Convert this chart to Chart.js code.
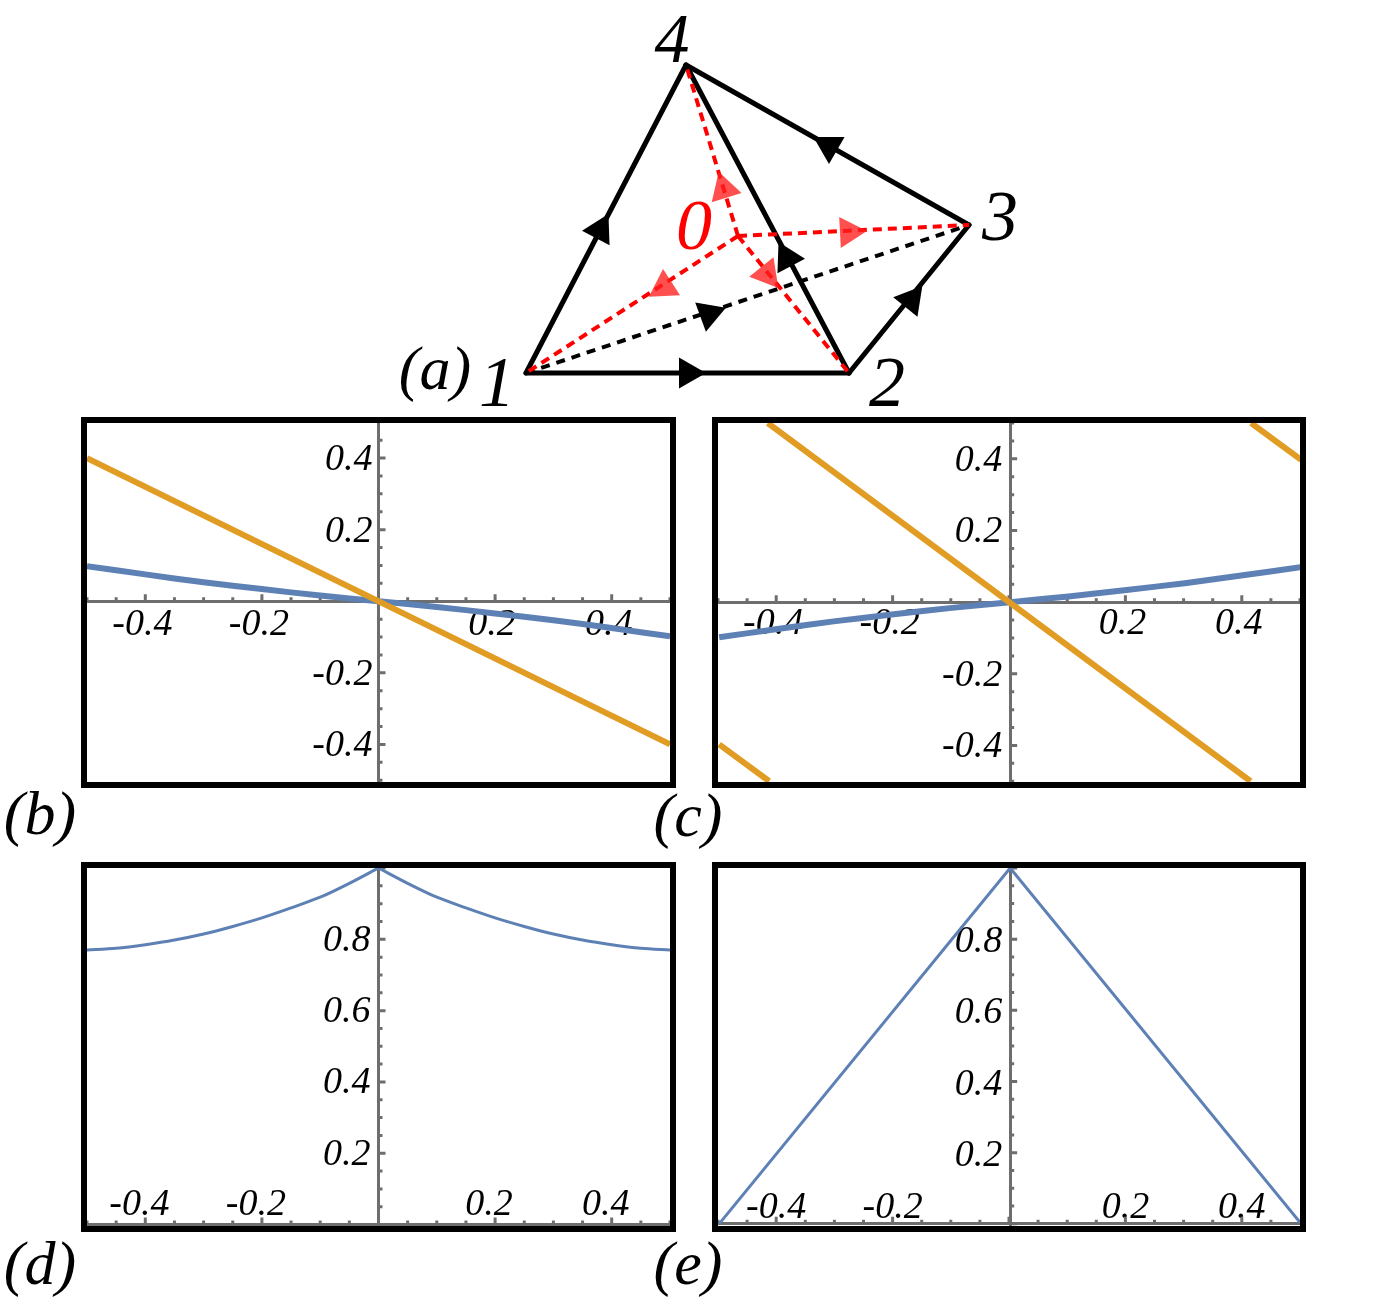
<!DOCTYPE html>
<html>
<head>
<meta charset="utf-8">
<title>Panels</title>
<script src="https://cdn.jsdelivr.net/npm/chart.js@4"></script>
<style>
	html, body { margin: 0; padding: 0; background: #fff; }
	body { position: relative; width: 1388px; height: 1312px; overflow: hidden; }
	.panel { position: absolute; border: 6px solid #000; }
	.panel canvas, #diagram { display: block; }
	#diagram { position: absolute; left: 400px; top: 0; }
	.tag {
		position: absolute;
		font-family: "Liberation Serif", serif;
		font-style: italic;
		line-height: 1;
		transform: translate(-50%, -50%);
		white-space: nowrap;
	}
</style>
</head>
<body>
<canvas id="diagram" width="640" height="416"></canvas>

<div class="panel" style="left:81px;top:417px"><canvas id="panel-b" width="583" height="359"></canvas></div>
<div class="panel" style="left:712px;top:417px"><canvas id="panel-c" width="582" height="359"></canvas></div>
<div class="panel" style="left:81px;top:862px"><canvas id="panel-d" width="583" height="358"></canvas></div>
<div class="panel" style="left:712px;top:862px"><canvas id="panel-e" width="582" height="358"></canvas></div>

<span class="tag" style="left:435px;top:368px;font-size:62px">(a)</span>
<span class="tag" style="left:40px;top:813px;font-size:62px">(b)</span>
<span class="tag" style="left:688px;top:815px;font-size:62px">(c)</span>
<span class="tag" style="left:40px;top:1263px;font-size:62px">(d)</span>
<span class="tag" style="left:688px;top:1263px;font-size:62px">(e)</span>

<span class="tag" style="left:497px;top:382px;font-size:72px">1</span>
<span class="tag" style="left:887px;top:382px;font-size:72px">2</span>
<span class="tag" style="left:1000px;top:216px;font-size:72px">3</span>
<span class="tag" style="left:672px;top:39px;font-size:70px">4</span>
<span class="tag" style="left:694px;top:225px;font-size:72px;color:#f00">0</span>

<script>
// tetrahedron sketch, node index = label, coordinates
const nodeX = [738, 526, 849, 969, 686];
const nodeY = [236, 373, 373, 225, 65];
const solidEdges = [[1, 2], [2, 3], [3, 4], [1, 4], [2, 4]];
const dashedEdges = [[1, 3]];
const redEdges = [[0, 1], [0, 2], [0, 3], [0, 4]];

const blackArrowX = [688, 911, 829, 600, 787, 709];
const blackArrowY = [373, 300, 146, 230, 258, 314];
const blackArrowTurn = [90, 39, -60, 28, -28, 70];
const redArrowX = [664, 767, 849, 724];
const redArrowY = [287, 274, 232, 189];
const redArrowTurn = [-123, 141, 87, -17];

// plots
const xLabels = [-0.4, -0.2, 0.2, 0.4];
const yLabelsSigned = [-0.4, -0.2, 0.2, 0.4];
const yLabelsPositive = [0.2, 0.4, 0.6, 0.8];

const phaseX = [-0.5, -0.4, -0.3, -0.2, -0.1, 0, 0.1, 0.2, 0.3, 0.4, 0.5];
const blueB = [0.098, 0.075, 0.053, 0.034, 0.016, 0, -0.016, -0.034, -0.053, -0.075, -0.098];
const orangeBX = [-0.5, 0.5];
const orangeB = [0.4, -0.4];

const blueC = [-0.098, -0.075, -0.053, -0.034, -0.016, 0, 0.016, 0.034, 0.053, 0.075, 0.098];
const orangeCX = [-0.5, -0.414, null, -0.4165, 0.413, null, 0.414, 0.5];
const orangeC = [-0.397, -0.5, null, 0.5, -0.5, null, 0.5, 0.397];

// null at the peak keeps the kink when the line is smoothed
const curveDX = [-0.5, -0.45, -0.4, -0.35, -0.3, -0.25, -0.2, -0.15, -0.1, -0.05, 0, null, 0, 0.05, 0.1, 0.15, 0.2, 0.25, 0.3, 0.35, 0.4, 0.45, 0.5];
const curveD = [0.77, 0.775, 0.785, 0.798, 0.815, 0.836, 0.86, 0.888, 0.918, 0.957, 1, null, 1, 0.957, 0.918, 0.888, 0.86, 0.836, 0.815, 0.798, 0.785, 0.775, 0.77];
const curveEX = [-0.5, 0, 0.5];
const curveE = [0, 1, 0];

const BLUE = "#5e81b5";
const ORANGE = "#e19c24";
const AXIS = "#6e6e6e";
const FONT = { family: "'Liberation Serif', serif", style: "italic", size: 38 };

function zip(xs, ys) {
	return xs.map((x, i) => ({ x, y: ys[i] }));
}

function isMajor(value) {
	return Math.round(value * 20) % 4 === 0;
}

function round2(value) {
	return Math.round(value * 100) / 100;
}

function noScaleMargin(scale) {
	scale.paddingLeft = 0;
	scale.paddingRight = 0;
	scale.paddingTop = 0;
	scale.paddingBottom = 0;
}

// ticks grow into the upper/right side of the axis, which grid.tickLength can't do.
// y labels too: a scale pinned with position {x: 0} ignores ticks.padding
const innerTicks = {
	id: "innerTicks",
	beforeDatasetsDraw(chart) {
		const { ctx, scales: { x, y } } = chart;
		const { gap, shift } = chart.options.plugins.innerTicks;
		const axisX = x.getPixelForValue(0);
		const axisY = y.getPixelForValue(0);
		ctx.save();
		ctx.strokeStyle = AXIS;
		ctx.lineWidth = 3;
		ctx.beginPath();
		x.ticks.forEach((t) => {
			const px = x.getPixelForValue(t.value);
			ctx.moveTo(px, axisY);
			ctx.lineTo(px, axisY - (isMajor(t.value) ? 7 : 4));
		});
		y.ticks.forEach((t) => {
			const py = y.getPixelForValue(t.value);
			ctx.moveTo(axisX, py);
			ctx.lineTo(axisX + (isMajor(t.value) ? 7 : 4), py);
		});
		ctx.stroke();

		ctx.fillStyle = "#000";
		ctx.font = `italic ${FONT.size}px ${FONT.family}`;
		ctx.textAlign = "right";
		ctx.textBaseline = "middle";
		y.ticks.forEach((t) => {
			if (t.label) ctx.fillText(t.label, axisX - gap, y.getPixelForValue(t.value) + shift);
		});
		ctx.restore();
	},
};

function makePanel(id, cfg) {
	return new Chart(document.getElementById(id), {
		type: "scatter",
		data: {
			datasets: cfg.series.map((s) => ({
				data: zip(s.x, s.y),
				showLine: true,
				borderColor: s.color,
				borderWidth: s.width,
				tension: s.tension || 0,
				pointRadius: 0,
				spanGaps: false,
				order: s.order,
			})),
		},
		plugins: [innerTicks],
		options: {
			responsive: false,
			animation: false,
			layout: { padding: 0, autoPadding: false },
			plugins: { legend: { display: false }, tooltip: { enabled: false }, innerTicks: { gap: cfg.yGap, shift: cfg.yShift } },
			scales: {
				x: {
					type: "linear",
					position: { y: 0 },
					min: cfg.xRange[0],
					max: cfg.xRange[1],
					afterFit: noScaleMargin,
					grid: { display: false },
					border: { color: AXIS, width: 3 },
					ticks: {
						stepSize: 0.05,
						autoSkip: false,
						includeBounds: false,
						maxRotation: 0,
						padding: cfg.xPad,
						labelOffset: cfg.xShift,
						color: "#000",
						font: FONT,
						callback: (v) => (xLabels.includes(round2(v)) ? String(round2(v)) : ""),
					},
				},
				y: {
					type: "linear",
					position: { x: 0 },
					min: cfg.yRange[0],
					max: cfg.yRange[1],
					afterFit: noScaleMargin,
					grid: { display: false },
					border: { color: AXIS, width: 3 },
					ticks: {
						display: false,
						stepSize: 0.05,
						autoSkip: false,
						includeBounds: false,
						callback: (v) => (cfg.yLabels.includes(round2(v)) ? String(round2(v)) : ""),
					},
				},
			},
		},
	});
}

makePanel("panel-b", {
	xRange: [-0.5, 0.5], yRange: [-0.505, 0.498], yLabels: yLabelsSigned, xPad: -7, xShift: -3, yGap: 6, yShift: 2,
	series: [
		{ x: phaseX, y: blueB, color: BLUE, width: 6, tension: 0.3, order: 2 },
		{ x: orangeBX, y: orangeB, color: ORANGE, width: 6, order: 1 },
	],
});
makePanel("panel-c", {
	xRange: [-0.502, 0.498], yRange: [-0.502, 0.5], yLabels: yLabelsSigned, xPad: -9, xShift: -3, yGap: 8, yShift: 2,
	series: [
		{ x: phaseX, y: blueC, color: BLUE, width: 6, tension: 0.3, order: 2 },
		{ x: orangeCX, y: orangeC, color: ORANGE, width: 6, order: 1 },
	],
});
makePanel("panel-d", {
	xRange: [-0.5, 0.5], yRange: [-0.004, 1], yLabels: yLabelsPositive, xPad: -50, xShift: -6, yGap: 8, yShift: 1.5,
	series: [{ x: curveDX, y: curveD, color: BLUE, width: 3, tension: 0.3, order: 1 }],
});
makePanel("panel-e", {
	xRange: [-0.502, 0.498], yRange: [-0.006, 1], yLabels: yLabelsPositive, xPad: -47, xShift: 0, yGap: 8, yShift: 3,
	series: [{ x: curveEX, y: curveE, color: BLUE, width: 3, order: 1 }],
});

// sketch (a)
function edgePoints(edge) {
	return edge.map((n) => ({ x: nodeX[n], y: nodeY[n] }));
}

const diagramSets = [];
solidEdges.forEach((edge) => {
	diagramSets.push({ data: edgePoints(edge), showLine: true, borderColor: "#000", borderWidth: 5, borderCapStyle: "round", pointRadius: 0, order: 5 });
});
dashedEdges.forEach((edge) => {
	diagramSets.push({ data: edgePoints(edge), showLine: true, borderColor: "#000", borderWidth: 4, borderDash: [9, 7], pointRadius: 0, order: 4 });
});
redEdges.forEach((edge) => {
	diagramSets.push({ data: edgePoints(edge), showLine: true, borderColor: "#f00", borderWidth: 4, borderDash: [9, 6], pointRadius: 0, order: 3 });
});
diagramSets.push({
	data: zip(blackArrowX, blackArrowY),
	showLine: false,
	pointStyle: "triangle",
	pointRadius: 18,
	pointRotation: blackArrowTurn,
	pointBackgroundColor: "#000",
	pointBorderWidth: 0,
	order: 2,
});
diagramSets.push({
	data: zip(redArrowX, redArrowY),
	showLine: false,
	pointStyle: "triangle",
	pointRadius: 18,
	pointRotation: redArrowTurn,
	pointBackgroundColor: "rgba(255, 30, 30, 0.78)",
	pointBorderWidth: 0,
	order: 1,
});

new Chart(document.getElementById("diagram"), {
	type: "scatter",
	data: { datasets: diagramSets },
	options: {
		responsive: false,
		animation: false,
		layout: { padding: 0, autoPadding: false },
		plugins: { legend: { display: false }, tooltip: { enabled: false } },
		scales: {
			x: { type: "linear", display: false, min: 400, max: 1040 },
			y: { type: "linear", display: false, min: 0, max: 416, reverse: true },
		},
	},
});
</script>
</body>
</html>
